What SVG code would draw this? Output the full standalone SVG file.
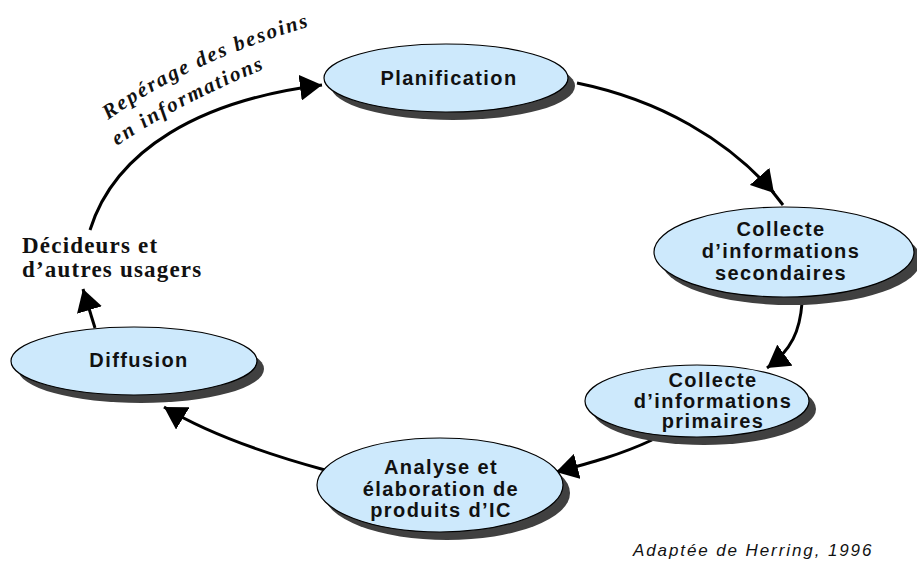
<svg xmlns="http://www.w3.org/2000/svg" width="917" height="568" viewBox="0 0 917 568">
  <style>
    .shadow { fill: #404040; }
    .body { fill: #cde9fc; stroke: #000; stroke-width: 1.2; }
    .label { font-family: "Liberation Sans", Arial, sans-serif; font-weight: bold; font-size: 20px; letter-spacing: 1.4px; fill: #111; text-anchor: middle; }
    .wire { fill: none; stroke: #000; stroke-width: 3; marker-end: url(#head); }
    .note { font-family: "Liberation Serif", "Times New Roman", serif; font-weight: bold; fill: #111; }
    .credit { font-family: "Liberation Sans", Arial, sans-serif; font-style: italic; font-size: 17px; letter-spacing: 1.9px; fill: #111; }
  </style>
  <defs>
    <marker id="head" markerUnits="userSpaceOnUse" markerWidth="24" markerHeight="26" viewBox="0 0 24 26" refX="22" refY="13" orient="auto">
      <path d="M0,0 L22,13 L0,26 z" fill="#000"/>
    </marker>
    <path id="arcTop" d="M108,120 Q192,60 318,24"/>
    <path id="arcBottom" d="M117,146 Q186,99 282,62"/>
  </defs>

  <rect width="917" height="568" fill="#fff"/>

  <!-- connectors -->
  <g id="connectors">
    <path class="wire" d="M577,83 C660,100 728,140 774,193"/>
    <path d="M772,191 L783,205" fill="none" stroke="#000" stroke-width="3"/>
    <path class="wire" d="M802,303 C800,330 792,350 767,368"/>
    <path class="wire" d="M652,440 C620,455 590,463 556,472"/>
    <path class="wire" d="M325,470 C270,455 210,435 164,407"/>
    <path class="wire" d="M95,328 L83,289"/>
    <path class="wire" d="M90,230 C115,150 200,100 322,85"/>
  </g>

  <!-- nodes -->
  <g id="planification">
    <ellipse class="shadow" cx="453" cy="86" rx="122" ry="34"/>
    <ellipse class="body" cx="446" cy="78" rx="122" ry="34"/>
    <text class="label" x="449" y="85">Planification</text>
  </g>

  <g id="collecte-secondaires">
    <ellipse class="shadow" cx="791" cy="260" rx="130" ry="45"/>
    <ellipse class="body" cx="784" cy="252" rx="130" ry="45"/>
    <text class="label" x="781" y="236">Collecte</text>
    <text class="label" x="781" y="258">d’informations</text>
    <text class="label" x="781" y="280">secondaires</text>
  </g>

  <g id="collecte-primaires">
    <ellipse class="shadow" cx="704" cy="409" rx="112" ry="36"/>
    <ellipse class="body" cx="697" cy="401" rx="112" ry="36"/>
    <text class="label" x="713" y="387">Collecte</text>
    <text class="label" x="713" y="408">d’informations</text>
    <text class="label" x="713" y="428">primaires</text>
  </g>

  <g id="analyse">
    <ellipse class="shadow" cx="447" cy="493" rx="123" ry="47"/>
    <ellipse class="body" cx="440" cy="485" rx="123" ry="47"/>
    <text class="label" x="441" y="474">Analyse et</text>
    <text class="label" x="441" y="496">élaboration de</text>
    <text class="label" x="441" y="517">produits d’IC</text>
  </g>

  <g id="diffusion">
    <ellipse class="shadow" cx="141" cy="369" rx="123" ry="34"/>
    <ellipse class="body" cx="134" cy="361" rx="123" ry="34"/>
    <text class="label" x="139" y="367">Diffusion</text>
  </g>

  <g id="decideurs">
    <text class="note" x="22" y="253" font-size="23" letter-spacing="1.2">Décideurs et</text>
    <text class="note" x="22" y="277" font-size="23" letter-spacing="1.2">d’autres usagers</text>
  </g>

  <g id="reperage">
    <text class="note" font-style="italic" font-size="21" letter-spacing="2"><textPath href="#arcTop">Repérage des besoins</textPath></text>
    <text class="note" font-style="italic" font-size="21" letter-spacing="2"><textPath href="#arcBottom">en informations</textPath></text>
  </g>

  <text class="credit" x="633" y="556">Adaptée de Herring, 1996</text>
</svg>
